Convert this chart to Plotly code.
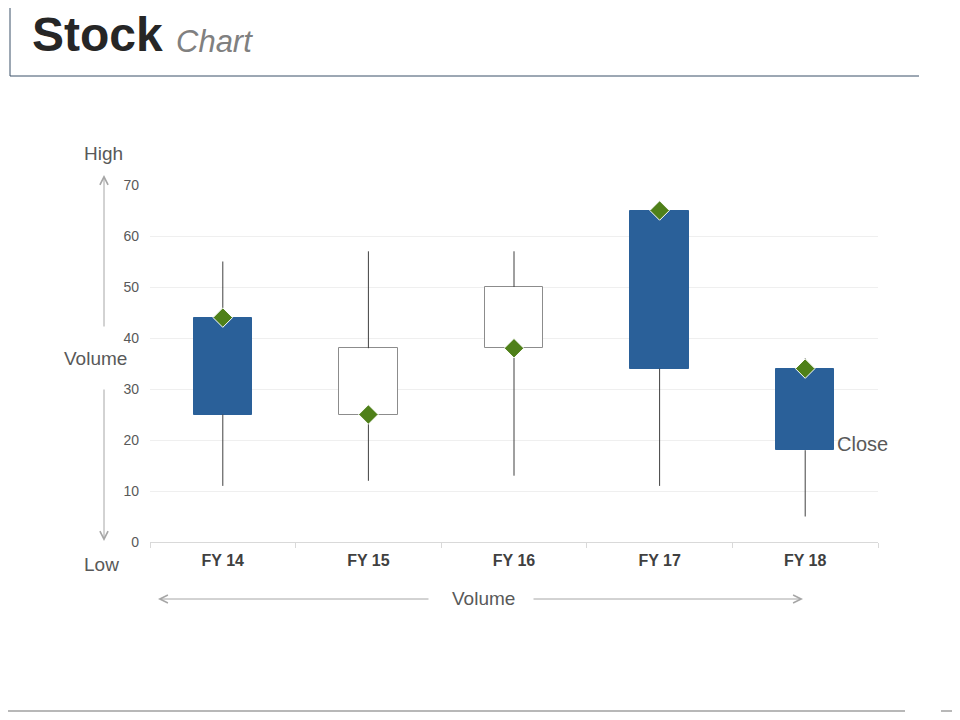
import plotly.graph_objects as go

# stock values per fiscal year
categorias = ["FY 14", "FY 15", "FY 16", "FY 17", "FY 18"]
abertura = [25, 38, 50, 34, 18]
maxima = [55, 57, 57, 65, 36]
minima = [11, 12, 13, 11, 5]
fechamento = [44, 25, 38, 65, 34]
y_ticks = [0, 10, 20, 30, 40, 50, 60, 70]

AZUL = "#2a6099"
VERDE = "#4f8019"
FONTE = "Liberation Sans, Arial, sans-serif"

# o navegador desloca a pagina em 8px (margem do body)
OFF = 8
# area do grafico em pixels da pagina
L, R, T, B = 150, 878, 185, 542


def px_x(p):
    return (p - L) / (R - L)


def px_y(p):
    return (B - p) / (B - T)


base = [min(o, c) for o, c in zip(abertura, fechamento)]
altura = [abs(c - o) for o, c in zip(abertura, fechamento)]
cor = [AZUL if c > o else "white" for o, c in zip(abertura, fechamento)]
borda = [AZUL if c > o else "#8c8c8c" for o, c in zip(abertura, fechamento)]

# pavios: parte de cima e parte de baixo
wx, wy = [], []
for cat, o, h, l, c in zip(categorias, abertura, maxima, minima, fechamento):
    wx += [cat, cat, None, cat, cat, None]
    wy += [max(o, c), h, None, l, min(o, c), None]

fig = go.Figure()
fig.add_trace(go.Scatter(x=wx, y=wy, mode="lines",
                         line=dict(color="#404040", width=1),
                         hoverinfo="skip", showlegend=False))
fig.add_trace(go.Bar(x=categorias, y=altura, base=base, width=0.4,
                     marker=dict(color=cor, line=dict(color=borda, width=1)),
                     showlegend=False))
fig.add_trace(go.Scatter(x=categorias, y=fechamento, mode="markers",
                         marker=dict(symbol="diamond", size=15, color=VERDE,
                                     line=dict(color="white", width=1)),
                         showlegend=False))

texto = dict(family=FONTE, size=19, color="#595959")
anotacoes = [
    dict(x=px_x(30), y=px_y(63), text="<b>Stock</b>", xanchor="left", yanchor="bottom",
         font=dict(family=FONTE, size=48, color="#262626")),
    dict(x=px_x(174), y=px_y(61), text="<i>Chart</i>", xanchor="left", yanchor="bottom",
         font=dict(family=FONTE, size=31, color="#808080")),
    dict(x=px_x(103), y=px_y(153), text="High", font=texto),
    dict(x=px_x(95), y=px_y(358), text="Volume", font=texto),
    dict(x=px_x(101), y=px_y(564), text="Low", font=texto),
    dict(x=px_x(483), y=px_y(598), text="Volume", font=texto),
    dict(x=px_x(835), y=px_y(444), text="Close", xanchor="left",
         font=dict(texto, size=20)),
]
# setas
for hx, hy, ax, ay in [(104, 175, 0, 153), (104, 541, 0, -153),
                       (158, 599, 272, 0), (803, 599, -271, 0)]:
    anotacoes.append(dict(x=px_x(hx), y=px_y(hy), ax=ax, ay=ay, text="",
                          showarrow=True, arrowhead=5, arrowsize=1.6,
                          arrowwidth=1, arrowcolor="#a6a6a6"))
for a in anotacoes:
    a.setdefault("showarrow", False)
    a.setdefault("xanchor", "center")
    a.setdefault("yanchor", "middle")
    a.update(xref="paper", yref="paper")

linha = dict(type="line", xref="paper", yref="paper")
formas = [
    dict(linha, x0=px_x(10), x1=px_x(10), y0=px_y(6), y1=px_y(76), line=dict(color="#3b5068", width=1)),
    dict(linha, x0=px_x(10), x1=px_x(26), y0=px_y(6), y1=px_y(6), line=dict(color="#3b5068", width=1)),
    dict(linha, x0=px_x(10), x1=px_x(919), y0=px_y(76), y1=px_y(76), line=dict(color="#3b5068", width=1)),
    dict(linha, x0=px_x(OFF), x1=px_x(905), y0=px_y(711), y1=px_y(711), line=dict(color="#a0a0a0", width=1.5)),
    dict(linha, x0=px_x(941), x1=px_x(960), y0=px_y(711), y1=px_y(711), line=dict(color="#a0a0a0", width=1.5)),
]

fig.update_layout(
    width=960, height=720,
    margin=dict(l=L - OFF, r=960 - R + OFF, t=T - OFF, b=720 - B + OFF),
    paper_bgcolor="white", plot_bgcolor="white",
    font=dict(family=FONTE),
    annotations=anotacoes, shapes=formas,
    bargap=0,
    xaxis=dict(type="category", range=[-0.5, 4.5], showgrid=False,
               showline=True, linecolor="#d9d9d9", linewidth=1,
               ticks="outside", tickson="boundaries", ticklen=5, tickcolor="#d9d9d9",
               ticklabelstandoff=4,
               tickfont=dict(family=FONTE, size=16, color="#404040", weight="bold")),
    yaxis=dict(range=[0, 70], tickvals=y_ticks, showgrid=True, gridcolor="#efefef",
               zeroline=False, showline=False,
               tickfont=dict(family=FONTE, size=14, color="#595959"),
               ticklabelstandoff=10),
)

fig.write_html("out.html")
